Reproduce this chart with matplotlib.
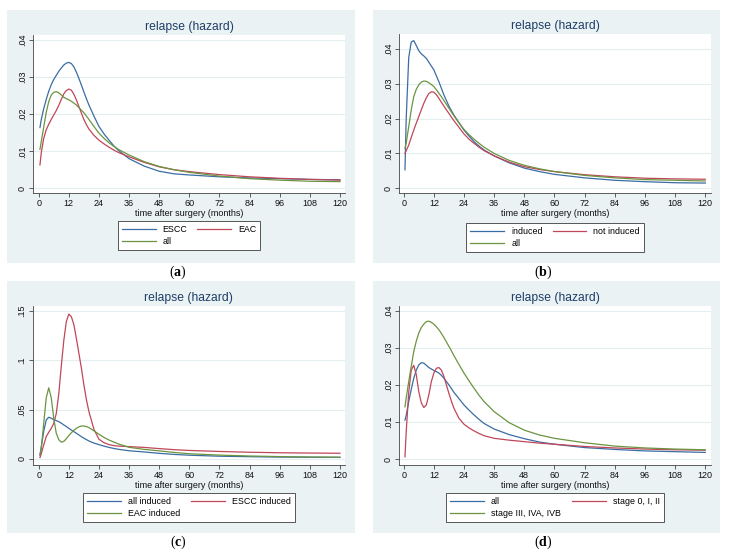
import numpy as np
import matplotlib.pyplot as plt
from matplotlib.patches import Rectangle

plt.rcParams['font.family'] = ['Liberation Sans', 'DejaVu Sans']
plt.rcParams['mathtext.fontset'] = 'custom'
plt.rcParams['mathtext.rm'] = 'Liberation Serif'
plt.rcParams['mathtext.bf'] = 'Liberation Serif:bold'

# months after surgery (shared grid for all curves)
months = [0.5, 1, 2, 3, 4, 5, 6, 7, 8, 9, 10, 11, 12, 13, 14, 15, 16, 17, 18, 19, 20,
          22, 24, 26, 28, 30, 32, 36, 42, 48, 54, 60, 72, 84, 96, 108, 120]

# (a) by histology
a_escc = [0.0164, 0.0185, 0.0215, 0.0240, 0.0262, 0.0280, 0.0294, 0.0305, 0.0316, 0.0325, 0.0333,
          0.0338, 0.0340, 0.0337, 0.0328, 0.0314, 0.0297, 0.0279, 0.0260, 0.0242, 0.0225,
          0.0195, 0.0167, 0.0147, 0.0130, 0.0114, 0.0101, 0.0080, 0.0060, 0.0046, 0.0039, 0.0036,
          0.0031, 0.0028, 0.0026, 0.0024, 0.0023]
a_eac = [0.0063, 0.0095, 0.0135, 0.0158, 0.0173, 0.0186, 0.0198, 0.0210, 0.0224, 0.0240, 0.0255,
         0.0264, 0.0268, 0.0265, 0.0254, 0.0239, 0.0221, 0.0203, 0.0186, 0.0172, 0.0160,
         0.0143, 0.0130, 0.0120, 0.0111, 0.0103, 0.0096, 0.0085, 0.0070, 0.0058, 0.0050, 0.0045,
         0.0037, 0.0031, 0.0027, 0.0024, 0.0022]
a_all = [0.0105, 0.0125, 0.0165, 0.0205, 0.0234, 0.0252, 0.0259, 0.0261, 0.0258, 0.0252, 0.0246,
         0.0242, 0.0239, 0.0235, 0.0230, 0.0225, 0.0218, 0.0211, 0.0204, 0.0195, 0.0186,
         0.0167, 0.0149, 0.0135, 0.0123, 0.0113, 0.0104, 0.0090, 0.0072, 0.0059, 0.0050, 0.0043,
         0.0033, 0.0026, 0.0022, 0.0019, 0.0018]

# (b) by induction therapy
b_induced = [0.0053, 0.0200, 0.0375, 0.0420, 0.0424, 0.0410, 0.0395, 0.0386, 0.0380, 0.0373, 0.0362,
             0.0351, 0.0340, 0.0323, 0.0306, 0.0287, 0.0268, 0.0252, 0.0236, 0.0223, 0.0210,
             0.0188, 0.0167, 0.0150, 0.0134, 0.0121, 0.0110, 0.0093, 0.0073, 0.0058, 0.0048, 0.0040,
             0.0030, 0.0023, 0.0019, 0.0016, 0.0015]
b_not_induced = [0.0100, 0.0108, 0.0124, 0.0146, 0.0167, 0.0187, 0.0206, 0.0225, 0.0244, 0.0260, 0.0272,
                 0.0277, 0.0276, 0.0269, 0.0258, 0.0247, 0.0236, 0.0225, 0.0215, 0.0204, 0.0194,
                 0.0175, 0.0156, 0.0141, 0.0129, 0.0118, 0.0108, 0.0093, 0.0075, 0.0062, 0.0054, 0.0048,
                 0.0039, 0.0033, 0.0029, 0.0027, 0.0026]
b_all = [0.0115, 0.0130, 0.0177, 0.0225, 0.0263, 0.0284, 0.0297, 0.0305, 0.0308, 0.0307, 0.0303,
         0.0298, 0.0292, 0.0283, 0.0273, 0.0263, 0.0252, 0.0241, 0.0230, 0.0219, 0.0208,
         0.0188, 0.0169, 0.0154, 0.0141, 0.0129, 0.0118, 0.0100, 0.0080, 0.0066, 0.0056, 0.0048,
         0.0037, 0.0030, 0.0025, 0.0023, 0.0021]

# (c) induced patients by histology
c_all_induced = [0.0040, 0.0120, 0.0280, 0.0395, 0.0422, 0.0412, 0.0398, 0.0388, 0.0378, 0.0362, 0.0345,
                 0.0328, 0.0310, 0.0293, 0.0277, 0.0260, 0.0243, 0.0226, 0.0210, 0.0196, 0.0182,
                 0.0161, 0.0145, 0.0130, 0.0117, 0.0106, 0.0097, 0.0083, 0.0071, 0.0057, 0.0046, 0.0038,
                 0.0028, 0.0023, 0.0019, 0.0017, 0.0016]
c_escc_induced = [0.0014, 0.0050, 0.0142, 0.0226, 0.0270, 0.0310, 0.0360, 0.0460, 0.0660, 0.0940, 0.1200,
                  0.1390, 0.1466, 0.1440, 0.1360, 0.1220, 0.1070, 0.0920, 0.0750, 0.0600, 0.0480,
                  0.0300, 0.0200, 0.0165, 0.0145, 0.0135, 0.0130, 0.0125, 0.0117, 0.0105, 0.0094, 0.0086,
                  0.0076, 0.0068, 0.0063, 0.0060, 0.0058]
c_eac_induced = [0.0040, 0.0100, 0.0360, 0.0620, 0.0720, 0.0620, 0.0410, 0.0260, 0.0195, 0.0170, 0.0178,
                 0.0205, 0.0237, 0.0265, 0.0290, 0.0310, 0.0325, 0.0333, 0.0334, 0.0328, 0.0318,
                 0.0285, 0.0250, 0.0218, 0.0192, 0.0170, 0.0150, 0.0118, 0.0097, 0.0082, 0.0066, 0.0053,
                 0.0039, 0.0030, 0.0024, 0.0020, 0.0018]

# (d) by stage
d_all = [0.0105, 0.0118, 0.0155, 0.0188, 0.0218, 0.0240, 0.0254, 0.0260, 0.0259, 0.0253, 0.0247,
         0.0243, 0.0239, 0.0236, 0.0232, 0.0226, 0.0218, 0.0209, 0.0200, 0.0190, 0.0180,
         0.0163, 0.0146, 0.0132, 0.0119, 0.0107, 0.0096, 0.0081, 0.0066, 0.0055, 0.0046, 0.0040,
         0.0031, 0.0026, 0.0022, 0.0020, 0.0018]
d_early = [0.0006, 0.0074, 0.0180, 0.0240, 0.0253, 0.0228, 0.0182, 0.0152, 0.0139, 0.0146, 0.0173,
           0.0209, 0.0232, 0.0245, 0.0247, 0.0240, 0.0223, 0.0200, 0.0177, 0.0156, 0.0137,
           0.0110, 0.0094, 0.0084, 0.0076, 0.0069, 0.0063, 0.0056, 0.0051, 0.0047, 0.0043, 0.0040,
           0.0034, 0.0030, 0.0027, 0.0025, 0.0024]
d_late = [0.0141, 0.0165, 0.0209, 0.0250, 0.0290, 0.0318, 0.0340, 0.0355, 0.0364, 0.0371, 0.0372,
          0.0369, 0.0364, 0.0357, 0.0349, 0.0339, 0.0328, 0.0316, 0.0304, 0.0292, 0.0279,
          0.0255, 0.0232, 0.0211, 0.0191, 0.0172, 0.0155, 0.0128, 0.0098, 0.0078, 0.0065, 0.0056,
          0.0044, 0.0035, 0.0030, 0.0027, 0.0025]

x_ticks = [0, 12, 24, 36, 48, 60, 72, 84, 96, 108, 120]
y_ticks_small = [0, 0.01, 0.02, 0.03, 0.04]
y_labels_small = ['0', '.01', '.02', '.03', '.04']
y_ticks_c = [0, 0.05, 0.1, 0.15]
y_labels_c = ['0', '.05', '.1', '.15']

BLUE, RED, GREEN = '#3a6da3', '#c0465a', '#6c9440'
BG = '#eaf2f3'
W, H = 736, 555


def box(x0, y0, x1, y1):
    return [x0 / W, 1 - y1 / H, (x1 - x0) / W, (y1 - y0) / H]


fig = plt.figure(figsize=(W / 100, H / 100), dpi=100)

panels = [
    dict(bg=(7, 10, 355, 263), plot=(33.3, 35, 345, 193), xlim=(-2.15, 122), ylim=(-0.00127, 0.0414),
         yt=y_ticks_small, yl=y_labels_small,
         series=[(a_escc, BLUE, 'ESCC'), (a_eac, RED, 'EAC'), (a_all, GREEN, 'all')],
         leg_top=221, colsp=1.1, tag='a'),
    dict(bg=(373, 10, 720, 263), plot=(399, 34, 711.3, 193), xlim=(-1.87, 122.4), ylim=(-0.00135, 0.0443),
         yt=y_ticks_small, yl=y_labels_small,
         series=[(b_induced, BLUE, 'induced'), (b_not_induced, RED, 'not induced'), (b_all, GREEN, 'all')],
         leg_top=222.7, colsp=1.1, tag='b'),
    dict(bg=(7, 281, 355, 533), plot=(32.7, 306, 345, 465), xlim=(-2.39, 122), ylim=(-0.0061, 0.1548),
         yt=y_ticks_c, yl=y_labels_c,
         series=[(c_all_induced, BLUE, 'all induced'), (c_escc_induced, RED, 'ESCC induced'),
                 (c_eac_induced, GREEN, 'EAC induced')],
         leg_top=493, colsp=1.2, tag='c'),
    dict(bg=(373, 281, 720, 533), plot=(399, 306, 711, 465), xlim=(-1.87, 122.3), ylim=(-0.0016, 0.0413),
         yt=y_ticks_small, yl=y_labels_small,
         series=[(d_all, BLUE, 'all'), (d_early, RED, 'stage 0, I, II'), (d_late, GREEN, 'stage III, IVA, IVB')],
         leg_top=493, colsp=1.3, tag='d'),
]

for p in panels:
    bx0, by0, bx1, by1 = p['bg']
    fig.patches.append(Rectangle((bx0 / W, 1 - by1 / H), (bx1 - bx0) / W, (by1 - by0) / H,
                                 transform=fig.transFigure, facecolor=BG, edgecolor='none', zorder=-10))
    px0, py0, px1, py1 = p['plot']
    ax = fig.add_axes(box(px0, py0, px1, py1))
    ax.set_zorder(1)
    ax.set_facecolor('white')
    handles = []
    for vals, col, lab in p['series']:
        h, = ax.plot(months, vals, color=col, lw=0.9, label=lab, solid_joinstyle='round')
        handles.append(h)
    ax.set_xlim(*p['xlim'])
    ax.set_ylim(*p['ylim'])
    ax.set_xticks(x_ticks)
    ax.set_yticks(p['yt'])
    ax.set_yticklabels(p['yl'], rotation=90, va='center')
    ax.tick_params(labelsize=6.5, length=3, width=0.6, color='#444444', labelcolor='#111111', pad=1.5)
    ax.grid(axis='y', color='#e4edef', lw=0.8)
    ax.set_axisbelow(True)
    for side in ('top', 'right'):
        ax.spines[side].set_visible(False)
    for side in ('left', 'bottom'):
        ax.spines[side].set_color('#444444')
        ax.spines[side].set_linewidth(0.6)

    cx = (px0 + px1) / 2 / W
    fig.text(cx, 1 - (py0 - 8) / H, 'relapse (hazard)', ha='center', va='center',
             fontsize=8.7, color='#1f3f68')
    fig.text(cx, 1 - (py1 + 20) / H, 'time after surgery (months)', ha='center', va='center',
             fontsize=6.5, color='#111111')

    leg = fig.legend([handles[0], handles[2], handles[1]],
                     [p['series'][0][2], p['series'][2][2], p['series'][1][2]],
                     ncol=2, loc='upper center', bbox_to_anchor=(cx, 1 - p['leg_top'] / H),
                     bbox_transform=fig.transFigure, fontsize=6.4, frameon=True, fancybox=False,
                     edgecolor='#555555', facecolor='white', framealpha=1, handlelength=3.8,
                     handletextpad=0.8, columnspacing=p['colsp'], labelspacing=0.35,
                     borderpad=0.45, borderaxespad=0)
    leg.get_frame().set_linewidth(0.7)
    leg.set_zorder(2)

    fig.text((bx0 + bx1) / 2 / W - 0.004, 1 - (by1 + 9) / H,
             r'$\mathrm{(}\mathbf{' + p['tag'] + r'}\mathrm{)}$',
             ha='center', va='center', fontsize=10, color='black')

fig.savefig('out.png', dpi=100, facecolor='white')
